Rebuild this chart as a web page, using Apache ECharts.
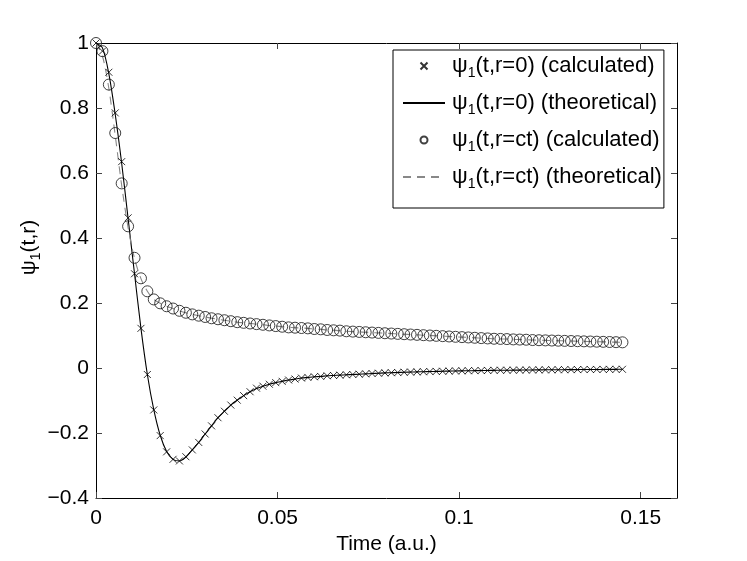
<!DOCTYPE html>
<html>
<head>
<meta charset="utf-8">
<script src="https://cdn.jsdelivr.net/npm/echarts@6/dist/echarts.min.js"></script>
<style>
html,body{margin:0;padding:0;background:#fff;}
#c{width:747px;height:561px;}
</style>
</head>
<body>
<div id="c"></div>
<script>
// ---- data ----
const timeValues = [0, 0.00177, 0.00354, 0.0053, 0.00707, 0.00884, 0.01061, 0.01238, 0.01414, 0.01591,
  0.01768, 0.01945, 0.02122, 0.02298, 0.02475, 0.02652, 0.02829, 0.03006, 0.03182, 0.03359,
  0.03536, 0.03713, 0.0389, 0.04066, 0.04243, 0.0442, 0.04597, 0.04774, 0.0495, 0.05127,
  0.05304, 0.05481, 0.05658, 0.05834, 0.06011, 0.06188, 0.06365, 0.06542, 0.06718, 0.06895,
  0.07072, 0.07249, 0.07426, 0.07602, 0.07779, 0.07956, 0.08133, 0.0831, 0.08486, 0.08663,
  0.0884, 0.09017, 0.09194, 0.0937, 0.09547, 0.09724, 0.09901, 0.10078, 0.10254, 0.10431,
  0.10608, 0.10785, 0.10962, 0.11138, 0.11315, 0.11492, 0.11669, 0.11846, 0.12022, 0.12199,
  0.12376, 0.12553, 0.1273, 0.12906, 0.13083, 0.1326, 0.13437, 0.13614, 0.1379, 0.13967,
  0.14144, 0.14321, 0.14498];

const calcR0 = [1.000, 0.975, 0.910, 0.785, 0.635, 0.462, 0.290, 0.122, -0.020, -0.129,
  -0.208, -0.258, -0.281, -0.286, -0.273, -0.252, -0.229, -0.203, -0.178, -0.153,
  -0.133, -0.114, -0.099, -0.085, -0.073, -0.062, -0.056, -0.050, -0.045, -0.041,
  -0.037, -0.034, -0.031, -0.029, -0.027, -0.026, -0.024, -0.023, -0.022, -0.021,
  -0.020, -0.019, -0.018, -0.017, -0.016, -0.015, -0.0145, -0.014, -0.013, -0.0125,
  -0.012, -0.0115, -0.011, -0.0105, -0.010, -0.0095, -0.009, -0.0087, -0.0084, -0.0081,
  -0.0078, -0.0075, -0.0072, -0.0070, -0.0068, -0.0066, -0.0064, -0.0062, -0.0060, -0.0058,
  -0.0056, -0.0055, -0.0053, -0.0052, -0.0050, -0.0049, -0.0047, -0.0046, -0.0045, -0.0044,
  -0.0042, -0.0041, -0.0040];

const theoryR0 = [1.000, 0.985, 0.905, 0.780, 0.630, 0.460, 0.290, 0.122, -0.020, -0.128,
  -0.207, -0.257, -0.281, -0.286, -0.274, -0.252, -0.229, -0.203, -0.178, -0.153,
  -0.133, -0.114, -0.099, -0.085, -0.073, -0.063, -0.056, -0.050, -0.045, -0.041,
  -0.037, -0.034, -0.031, -0.029, -0.027, -0.026, -0.024, -0.023, -0.022, -0.021,
  -0.020, -0.019, -0.018, -0.017, -0.016, -0.015, -0.0145, -0.014, -0.013, -0.0125,
  -0.012, -0.0115, -0.011, -0.0105, -0.010, -0.0095, -0.009, -0.0087, -0.0084, -0.0081,
  -0.0078, -0.0075, -0.0072, -0.0070, -0.0068, -0.0066, -0.0064, -0.0062, -0.0060, -0.0058,
  -0.0056, -0.0055, -0.0053, -0.0052, -0.0050, -0.0049, -0.0047, -0.0046, -0.0045, -0.0044,
  -0.0042, -0.0041, -0.0040];

const calcRct = [1.000, 0.975, 0.872, 0.723, 0.568, 0.436, 0.339, 0.276, 0.236, 0.211,
  0.199, 0.190, 0.183, 0.176, 0.170, 0.165, 0.161, 0.157, 0.153, 0.150,
  0.147, 0.144, 0.141, 0.139, 0.137, 0.135, 0.133, 0.131, 0.129, 0.127,
  0.125, 0.124, 0.123, 0.122, 0.120, 0.119, 0.117, 0.116, 0.115, 0.113,
  0.112, 0.111, 0.110, 0.109, 0.108, 0.107, 0.106, 0.105, 0.104, 0.103,
  0.102, 0.101, 0.100, 0.099, 0.098, 0.097, 0.096, 0.095, 0.094, 0.093,
  0.092, 0.091, 0.090, 0.0895, 0.089, 0.088, 0.0875, 0.087, 0.086, 0.0855,
  0.085, 0.0845, 0.084, 0.0835, 0.083, 0.0825, 0.082, 0.0815, 0.081, 0.0805,
  0.080, 0.0795, 0.079];

const theoryRct = [1.000, 0.960, 0.860, 0.715, 0.562, 0.432, 0.337, 0.275, 0.236, 0.211,
  0.199, 0.190, 0.183, 0.176, 0.170, 0.165, 0.161, 0.157, 0.153, 0.150,
  0.147, 0.144, 0.141, 0.139, 0.137, 0.135, 0.133, 0.131, 0.129, 0.127,
  0.125, 0.124, 0.123, 0.122, 0.120, 0.119, 0.117, 0.116, 0.115, 0.113,
  0.112, 0.111, 0.110, 0.109, 0.108, 0.107, 0.106, 0.105, 0.104, 0.103,
  0.102, 0.101, 0.100, 0.099, 0.098, 0.097, 0.096, 0.095, 0.094, 0.093,
  0.092, 0.091, 0.090, 0.0895, 0.089, 0.088, 0.0875, 0.087, 0.086, 0.0855,
  0.085, 0.0845, 0.084, 0.0835, 0.083, 0.0825, 0.082, 0.0815, 0.081, 0.0805,
  0.080, 0.0795, 0.079];

const seriesNames = [
  'ψ1(t,r=0) (calculated)',
  'ψ1(t,r=0) (theoretical)',
  'ψ1(t,r=ct) (calculated)',
  'ψ1(t,r=ct) (theoretical)'
];
const xTickValues = [0, 0.05, 0.1, 0.15];
const yTickValues = [-0.4, -0.2, 0, 0.2, 0.4, 0.6, 0.8, 1];
const xAxisTitle = 'Time (a.u.)';
const yAxisTitle = 'ψ1(t,r)';

// ---- chart ----
const FONT = 'Liberation Sans, Arial, Helvetica, sans-serif';
const FS = 21;
const LFS = 22;
function pair(xs, ys) { return xs.map((x, i) => [x, ys[i]]); }
function richPsi(s) { return '{a|ψ}{s|1}{a|' + s.slice(2) + '}'; }
function makeRich(fs) {
  return {
    a: { fontSize: fs, fontFamily: FONT, color: '#000', lineHeight: 28 },
    s: { fontSize: 14, fontFamily: FONT, color: '#000', lineHeight: 14, padding: [14, 0, 0, 0] }
  };
}
function tickFmt(v) {
  const r = Math.round(v * 1000) / 1000;
  return String(r).replace('-', '\u2212');
}
const crossSymbol = 'path://M0,0L10,10M10,0L0,10';
const axisCol = '#000';

const chart = echarts.init(document.getElementById('c'), null, { renderer: 'canvas' });
chart.setOption({
  backgroundColor: '#fff',
  animation: false,
  grid: { left: 96, right: 70, top: 43, bottom: 63, containLabel: false },
  legend: {
    orient: 'vertical',
    left: 393, top: 50,
    backgroundColor: '#fff',
    borderColor: '#000', borderWidth: 1, borderRadius: 0,
    padding: [2, 2, 17, 9],
    itemWidth: 42, itemHeight: 7, itemGap: 9,
    data: seriesNames,
    formatter: richPsi,
    textStyle: { fontSize: LFS, fontFamily: FONT, color: '#000', padding: [0, 0, 0, 2], rich: makeRich(LFS) },
    selectedMode: false
  },
  xAxis: [{
    type: 'value', min: 0, max: 0.16, interval: 0.05,
    name: xAxisTitle, nameLocation: 'middle', nameGap: 36, nameMoveOverlap: false,
    nameTextStyle: { fontSize: FS, fontFamily: FONT, color: '#000' },
    axisLine: { show: true, onZero: false, lineStyle: { color: axisCol, width: 1 } },
    axisTick: { show: true, inside: true, length: 6, customValues: xTickValues, lineStyle: { color: '#444' } },
    axisLabel: { show: true, customValues: xTickValues, formatter: tickFmt, margin: 10, fontSize: FS, fontFamily: FONT, color: '#000' },
    splitLine: { show: false }
  }, {
    type: 'value', min: 0, max: 0.16, interval: 0.05, position: 'top',
    axisLine: { show: true, onZero: false, lineStyle: { color: axisCol, width: 1 } },
    axisTick: { show: true, inside: true, length: 6, customValues: xTickValues, lineStyle: { color: '#444' } },
    axisLabel: { show: false },
    splitLine: { show: false }
  }],
  yAxis: [{
    type: 'value', min: -0.4, max: 1, interval: 0.2,
    name: richPsi(yAxisTitle), nameLocation: 'middle', nameGap: 53, nameRotate: 90, nameMoveOverlap: false,
    nameTextStyle: { fontSize: FS, fontFamily: FONT, color: '#000', rich: makeRich(FS), padding: [0, 0, 0, 46] },
    axisLine: { show: true, onZero: false, lineStyle: { color: axisCol, width: 1 } },
    axisTick: { show: true, inside: true, length: 6, customValues: yTickValues, lineStyle: { color: '#444' } },
    axisLabel: { show: true, customValues: yTickValues, formatter: tickFmt, margin: 7, fontSize: FS, fontFamily: FONT, color: '#000' },
    splitLine: { show: false }
  }, {
    type: 'value', min: -0.4, max: 1, interval: 0.2, position: 'right',
    axisLine: { show: true, onZero: false, lineStyle: { color: axisCol, width: 1 } },
    axisTick: { show: true, inside: true, length: 6, customValues: yTickValues, lineStyle: { color: '#444' } },
    axisLabel: { show: false },
    splitLine: { show: false }
  }],
  series: [
    {
      name: seriesNames[0], type: 'scatter', xAxisIndex: 0, yAxisIndex: 0,
      symbol: crossSymbol, symbolSize: 7,
      itemStyle: { color: 'transparent', borderColor: '#000', borderWidth: 1 },
      data: pair(timeValues, calcR0), z: 4
    },
    {
      name: seriesNames[1], type: 'line', xAxisIndex: 0, yAxisIndex: 0,
      symbol: 'none', smooth: 0.3,
      lineStyle: { color: '#000', width: 1.1, type: 'solid' },
      itemStyle: { color: 'transparent', borderColor: 'transparent', borderWidth: 0 },
      data: pair(timeValues, theoryR0), z: 3
    },
    {
      name: seriesNames[2], type: 'scatter', xAxisIndex: 0, yAxisIndex: 0,
      symbol: 'circle', symbolSize: 11,
      itemStyle: { color: 'transparent', borderColor: '#111', borderWidth: 1 },
      data: pair(timeValues, calcRct), z: 4
    },
    {
      name: seriesNames[3], type: 'line', xAxisIndex: 0, yAxisIndex: 0,
      symbol: 'none', smooth: 0.3,
      lineStyle: { color: '#888', width: 1.1, type: [8, 6] },
      itemStyle: { color: 'transparent', borderColor: 'transparent', borderWidth: 0 },
      data: pair(timeValues, theoryRct), z: 3
    }
  ]
});
</script>
</body>
</html>
